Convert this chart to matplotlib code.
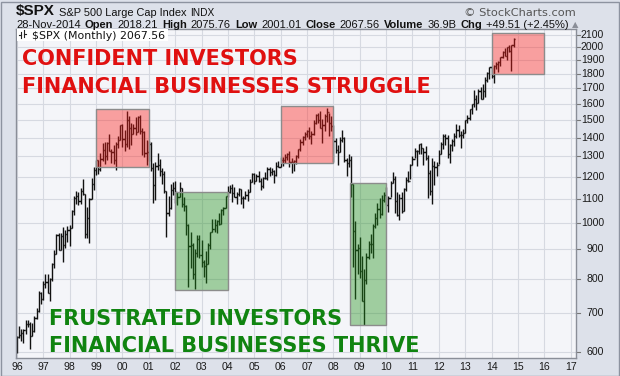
#!/usr/bin/env python3
"""S&P 500 monthly OHLC bars, 1996-2014, log scale, with shaded zones."""
import numpy as np
import matplotlib
matplotlib.use("Agg")
import matplotlib.pyplot as plt
from matplotlib.patches import Rectangle
import matplotlib.transforms as mtrans

# ---- monthly OHLC, Jan 1996 .. Nov 2014 ----
first_year = 1996

opens = [
    615.93, 636.02, 640.43, 645.50, 654.17, 669.12, 670.63, 639.95, 651.99, 687.31, 705.27, 757.02,
    740.74, 786.16, 790.82, 757.12, 801.34, 848.28, 885.14, 954.29, 899.47, 947.28, 914.62, 955.40,
    970.43, 980.28, 1049.34, 1101.75, 1111.75, 1090.82, 1133.84, 1120.67, 957.28, 1017.01, 1098.67, 1163.63,
    1229.23, 1279.64, 1238.33, 1286.37, 1335.18, 1301.84, 1372.71, 1328.72, 1320.41, 1282.71, 1362.93, 1388.91,
    1469.25, 1394.46, 1366.42, 1498.58, 1452.43, 1420.60, 1454.60, 1430.83, 1517.68, 1436.51, 1429.40, 1314.95,
    1320.28, 1366.01, 1239.94, 1160.33, 1249.46, 1255.82, 1224.42, 1211.23, 1133.58, 1040.94, 1059.78, 1139.45,
    1148.08, 1130.20, 1106.73, 1147.39, 1076.92, 1067.14, 989.82, 911.62, 916.07, 815.28, 885.76, 936.31,
    879.82, 855.70, 841.15, 848.18, 916.92, 963.59, 974.50, 990.31, 1008.01, 995.97, 1050.71, 1058.20,
    1111.92, 1131.13, 1144.94, 1126.21, 1107.30, 1120.68, 1140.84, 1101.72, 1104.24, 1114.58, 1130.20, 1173.82,
    1211.92, 1181.27, 1203.60, 1180.59, 1156.85, 1191.50, 1191.33, 1234.18, 1220.33, 1228.81, 1207.01, 1249.48,
    1248.29, 1280.08, 1280.66, 1294.83, 1310.61, 1270.09, 1270.20, 1276.66, 1303.82, 1335.85, 1377.94, 1400.63,
    1418.30, 1438.24, 1406.82, 1420.86, 1482.37, 1530.62, 1503.35, 1455.27, 1473.99, 1526.75, 1549.38, 1481.14,
    1468.36, 1378.55, 1330.63, 1322.70, 1385.59, 1400.38, 1280.00, 1267.38, 1282.83, 1166.36, 968.75, 896.24,
    903.25, 825.88, 735.09, 797.87, 872.81, 919.14, 919.32, 987.48, 1020.62, 1057.08, 1036.19, 1095.63,
    1115.10, 1073.87, 1104.49, 1169.43, 1186.69, 1089.41, 1030.71, 1101.60, 1049.33, 1141.20, 1183.26, 1180.55,
    1257.64, 1286.12, 1327.22, 1325.83, 1363.61, 1345.20, 1320.64, 1292.28, 1218.89, 1131.42, 1253.30, 1246.96,
    1257.60, 1312.41, 1365.68, 1408.47, 1397.91, 1310.33, 1362.16, 1379.32, 1406.58, 1440.67, 1412.16, 1416.18,
    1426.19, 1498.11, 1514.68, 1569.19, 1597.57, 1630.74, 1606.28, 1685.73, 1632.97, 1681.55, 1756.54, 1805.81,
    1848.36, 1782.59, 1859.45, 1872.34, 1883.95, 1923.57, 1960.23, 1930.67, 2003.37, 1972.29, 2018.21,
]

highs = [
    638.46, 664.23, 656.97, 657.63, 681.10, 680.32, 675.88, 671.84, 690.88, 714.10, 762.33, 761.75,
    794.67, 817.68, 817.00, 804.13, 851.87, 898.70, 955.40, 961.63, 960.59, 983.12, 973.38, 986.25,
    992.65, 1050.02, 1113.07, 1132.98, 1130.52, 1145.15, 1190.58, 1121.82, 1066.11, 1103.78, 1192.97, 1244.93,
    1280.37, 1283.75, 1316.55, 1371.56, 1375.98, 1376.81, 1420.33, 1336.61, 1357.74, 1373.17, 1408.51, 1473.10,
    1478.00, 1444.55, 1552.87, 1527.19, 1481.51, 1474.64, 1517.32, 1525.21, 1530.09, 1454.82, 1438.46, 1389.06,
    1383.37, 1376.38, 1267.42, 1269.30, 1315.93, 1286.62, 1239.78, 1226.27, 1135.52, 1110.61, 1163.38, 1173.62,
    1176.97, 1130.20, 1173.94, 1147.84, 1106.59, 1070.74, 994.46, 965.00, 924.02, 900.96, 954.28, 954.18,
    935.05, 864.64, 895.90, 924.24, 965.38, 1015.33, 1015.41, 1011.01, 1040.29, 1053.79, 1063.65, 1112.56,
    1155.38, 1158.98, 1163.23, 1150.57, 1127.74, 1146.34, 1140.84, 1109.68, 1131.54, 1142.05, 1188.46, 1217.33,
    1217.80, 1212.44, 1229.11, 1191.88, 1199.56, 1219.59, 1245.15, 1245.86, 1243.13, 1233.34, 1270.64, 1275.80,
    1294.90, 1297.57, 1310.88, 1318.16, 1326.70, 1290.68, 1280.42, 1306.74, 1340.28, 1389.45, 1407.89, 1431.81,
    1441.61, 1461.57, 1438.89, 1498.02, 1535.56, 1540.56, 1555.90, 1503.89, 1538.74, 1576.09, 1545.79, 1523.57,
    1471.77, 1396.02, 1359.68, 1404.57, 1440.24, 1404.05, 1292.17, 1313.15, 1303.04, 1167.03, 1007.51, 918.85,
    943.85, 875.01, 832.98, 888.70, 930.17, 956.23, 996.68, 1039.47, 1080.15, 1101.36, 1113.69, 1130.38,
    1150.45, 1112.42, 1180.16, 1219.80, 1202.45, 1131.23, 1120.95, 1129.24, 1148.90, 1196.14, 1227.08, 1262.60,
    1302.67, 1344.07, 1332.28, 1366.60, 1370.58, 1345.20, 1356.48, 1307.38, 1229.29, 1292.66, 1277.55, 1269.37,
    1333.47, 1378.04, 1419.15, 1422.38, 1415.32, 1363.46, 1391.74, 1426.68, 1474.51, 1470.96, 1434.27, 1448.00,
    1503.26, 1530.94, 1570.28, 1597.57, 1687.18, 1654.19, 1698.78, 1709.67, 1729.86, 1775.22, 1813.55, 1849.44,
    1850.84, 1867.92, 1883.97, 1897.28, 1924.03, 1968.17, 1991.39, 2005.04, 2019.26, 2018.19, 2075.76,
]

lows = [
    597.29, 633.71, 627.63, 621.15, 645.00, 662.48, 605.88, 639.70, 649.92, 684.76, 703.77, 723.96,
    737.01, 773.43, 756.13, 733.54, 793.21, 836.36, 883.68, 896.42, 899.47, 855.27, 903.68, 924.92,
    912.83, 979.59, 1032.39, 1076.70, 1074.39, 1074.67, 1114.30, 939.98, 939.79, 923.32, 1098.67, 1136.89,
    1205.46, 1211.94, 1226.24, 1278.24, 1263.11, 1281.41, 1328.72, 1268.37, 1261.69, 1233.70, 1341.77, 1387.38,
    1350.14, 1325.07, 1346.62, 1339.40, 1361.09, 1420.60, 1413.89, 1430.83, 1419.44, 1305.79, 1294.90, 1254.07,
    1274.62, 1228.33, 1081.19, 1091.99, 1232.00, 1203.03, 1165.54, 1124.87, 944.75, 1026.76, 1054.31, 1114.51,
    1081.66, 1074.36, 1106.73, 1063.46, 1048.96, 952.92, 775.68, 837.70, 800.20, 768.63, 872.03, 870.36,
    840.34, 806.29, 788.90, 847.85, 902.83, 963.59, 962.10, 960.84, 990.36, 995.97, 1031.20, 1058.20,
    1105.08, 1124.44, 1087.16, 1106.62, 1076.32, 1113.32, 1078.78, 1060.72, 1099.18, 1090.19, 1127.60, 1173.76,
    1163.75, 1180.95, 1176.84, 1136.15, 1146.18, 1188.30, 1183.55, 1201.07, 1205.35, 1168.20, 1201.07, 1246.59,
    1245.74, 1253.61, 1268.42, 1280.74, 1245.34, 1219.29, 1224.54, 1261.30, 1290.93, 1327.10, 1360.98, 1385.93,
    1403.97, 1389.42, 1363.98, 1416.37, 1476.70, 1484.18, 1454.25, 1370.60, 1439.29, 1489.56, 1406.10, 1435.65,
    1270.05, 1316.75, 1256.98, 1324.35, 1373.72, 1272.00, 1200.44, 1248.64, 1106.42, 839.80, 741.02, 815.69,
    804.30, 734.52, 666.79, 783.32, 866.10, 888.86, 869.32, 978.51, 991.97, 1020.18, 1029.38, 1085.89,
    1071.59, 1044.50, 1105.36, 1170.69, 1040.78, 1028.33, 1010.91, 1039.70, 1048.92, 1131.87, 1173.00, 1186.60,
    1257.62, 1289.14, 1249.05, 1312.70, 1311.80, 1258.07, 1282.86, 1101.54, 1114.22, 1074.77, 1158.66, 1202.37,
    1258.86, 1310.73, 1340.03, 1357.38, 1291.98, 1266.74, 1325.41, 1354.65, 1396.56, 1403.28, 1343.35, 1398.11,
    1426.19, 1485.01, 1501.48, 1536.03, 1581.28, 1560.33, 1604.57, 1627.47, 1633.41, 1646.47, 1746.20, 1767.99,
    1770.45, 1737.92, 1834.44, 1814.36, 1859.79, 1915.98, 1930.67, 1904.78, 1964.04, 1820.66, 2001.01,
]

closes = [
    636.02, 640.43, 645.50, 654.17, 669.12, 670.63, 639.95, 651.99, 687.31, 705.27, 757.02, 740.74,
    786.16, 790.82, 757.12, 801.34, 848.28, 885.14, 954.29, 899.47, 947.28, 914.62, 955.40, 970.43,
    980.28, 1049.34, 1101.75, 1111.75, 1090.82, 1133.84, 1120.67, 957.28, 1017.01, 1098.67, 1163.63, 1229.23,
    1279.64, 1238.33, 1286.37, 1335.18, 1301.84, 1372.71, 1328.72, 1320.41, 1282.71, 1362.93, 1388.91, 1469.25,
    1394.46, 1366.42, 1498.58, 1452.43, 1420.60, 1454.60, 1430.83, 1517.68, 1436.51, 1429.40, 1314.95, 1320.28,
    1366.01, 1239.94, 1160.33, 1249.46, 1255.82, 1224.42, 1211.23, 1133.58, 1040.94, 1059.78, 1139.45, 1148.08,
    1130.20, 1106.73, 1147.39, 1076.92, 1067.14, 989.82, 911.62, 916.07, 815.28, 885.76, 936.31, 879.82,
    855.70, 841.15, 848.18, 916.92, 963.59, 974.50, 990.31, 1008.01, 995.97, 1050.71, 1058.20, 1111.92,
    1131.13, 1144.94, 1126.21, 1107.30, 1120.68, 1140.84, 1101.72, 1104.24, 1114.58, 1130.20, 1173.82, 1211.92,
    1181.27, 1203.60, 1180.59, 1156.85, 1191.50, 1191.33, 1234.18, 1220.33, 1228.81, 1207.01, 1249.48, 1248.29,
    1280.08, 1280.66, 1294.83, 1310.61, 1270.09, 1270.20, 1276.66, 1303.82, 1335.85, 1377.94, 1400.63, 1418.30,
    1438.24, 1406.82, 1420.86, 1482.37, 1530.62, 1503.35, 1455.27, 1473.99, 1526.75, 1549.38, 1481.14, 1468.36,
    1378.55, 1330.63, 1322.70, 1385.59, 1400.38, 1280.00, 1267.38, 1282.83, 1166.36, 968.75, 896.24, 903.25,
    825.88, 735.09, 797.87, 872.81, 919.14, 919.32, 987.48, 1020.62, 1057.08, 1036.19, 1095.63, 1115.10,
    1073.87, 1104.49, 1169.43, 1186.69, 1089.41, 1030.71, 1101.60, 1049.33, 1141.20, 1183.26, 1180.55, 1257.64,
    1286.12, 1327.22, 1325.83, 1363.61, 1345.20, 1320.64, 1292.28, 1218.89, 1131.42, 1253.30, 1246.96, 1257.60,
    1312.41, 1365.68, 1408.47, 1397.91, 1310.33, 1362.16, 1379.32, 1406.58, 1440.67, 1412.16, 1416.18, 1426.19,
    1498.11, 1514.68, 1569.19, 1597.57, 1630.74, 1606.28, 1685.73, 1632.97, 1681.55, 1756.54, 1805.81, 1848.36,
    1782.59, 1859.45, 1872.34, 1883.95, 1923.57, 1960.23, 1930.67, 2003.37, 1972.29, 2018.05, 2067.56,
]

# shaded zones: (start year, end year, low, high)
zone_x0 = [1999.0, 2002.0, 2006.0, 2008.64, 2014.0]
zone_x1 = [2001.0, 2004.0, 2008.0, 2010.0, 2016.0]
zone_lo = [1245, 766, 1265, 667, 1798]
zone_hi = [1565, 1130, 1584, 1168, 2119]
zone_kind = ["up", "down", "up", "down", "up"]

y_ticks = [600, 700, 800, 900, 1000, 1100, 1200, 1300, 1400, 1500,
           1600, 1700, 1800, 1900, 2000, 2100]
x_years = list(range(1996, 2018))

title_parts = [("$SPX", "bold", 11.0), ("S&P 500 Large Cap Index", "normal", 7.9),
               ("INDX", "normal", 7.3)]
header_parts = [("28-Nov-2014", "normal"), ("Open", "bold"), ("2018.21", "normal"),
                ("High", "bold"), ("2075.76", "normal"), ("Low", "bold"),
                ("2001.01", "normal"), ("Close", "bold"), ("2067.56", "normal"),
                ("Volume", "bold"), ("36.9B", "normal"), ("Chg", "bold"),
                ("+49.51 (+2.45%)", "normal")]

RED = "#e01010"
GREEN = "#108410"
ZONE_FILL = {"up": ((1.0, 0.125, 0.10), 0.40), "down": ((0.13, 0.57, 0.10), 0.40)}

W, H = 620, 376
fig = plt.figure(figsize=(W / 100, H / 100), dpi=100)
fig.patch.set_facecolor("#dde1ea")
fig.patches.append(Rectangle((0.5 / W, 0.5 / H), (W - 2) / W, (H - 2) / H,
                             transform=fig.transFigure, fill=False,
                             edgecolor="#8d93a0", linewidth=1.0))

L, R, T, B = 15.5, 576, 29.3, 357.5
ax = fig.add_axes([L / W, 1 - B / H, (R - L) / W, (B - T) / H])
ax.set_facecolor("#f4f5f9")
ax.set_yscale("log")
ax.set_xlim(1995.947, 2017.2)
ax.set_ylim(587, 2147.7)
ax.set_xticks([])
ax.set_yticks([])
ax.minorticks_off()

for s in ax.spines.values():
    s.set_color("#8a8e98")
    s.set_linewidth(1.0)

# grid
for yv in y_ticks:
    ax.axhline(yv, color="#d6d9e1", lw=0.8, zorder=0)
for xv in x_years:
    ax.axvline(xv, color="#d6d9e1", lw=0.8, zorder=0)

# OHLC bars
x = first_year + np.arange(len(closes)) / 12.0
tick = 0.045
ax.vlines(x, lows, highs, color="#111111", lw=1.0, zorder=2)
ax.hlines(opens, x - tick, x, color="#111111", lw=1.0, zorder=2)
ax.hlines(closes, x, x + tick, color="#111111", lw=1.0, zorder=2)

# shaded zones on top of the bars
for x0, x1, lo, hi, k in zip(zone_x0, zone_x1, zone_lo, zone_hi, zone_kind):
    col, a = ZONE_FILL[k]
    ax.add_patch(Rectangle((x0, lo), x1 - x0, hi - lo, facecolor=col, alpha=a,
                           edgecolor="none", zorder=3))
    ax.add_patch(Rectangle((x0, lo), x1 - x0, hi - lo, fill=False,
                           edgecolor="#8c8c8c", lw=1.0, zorder=3))

# price axis on the right, year axis below
ytr = mtrans.blended_transform_factory(fig.transFigure, ax.transData)
for yv in y_ticks:
    ax.plot([R / W, (R + 3.5) / W], [yv, yv], transform=ytr, color="#777777",
            lw=0.8, clip_on=False)
    fig.text(604 / W, yv, str(yv), transform=ytr, ha="right", va="center",
             fontsize=7.6, family="Liberation Sans", color="#1a1a1a")
xtr = mtrans.blended_transform_factory(ax.transData, fig.transFigure)
for yr in x_years:
    fig.text(yr, 1 - 366.5 / H, f"{yr % 100:02d}", transform=xtr, ha="center",
             va="center", fontsize=7.6, family="Liberation Sans", color="#1a1a1a")

# legend box inside the chart
box_h = 12.0 / (B - T)
ax.add_patch(Rectangle((0.002, 1 - box_h), 151.0 / (R - L), box_h,
                       transform=ax.transAxes, facecolor="white", edgecolor="none", zorder=4))
ix = (20.5 - L) / (R - L)
gap = 3.5 / (R - L)
for dx, y0, y1 in [(0, 0.25, 0.80), (gap, 0.40, 0.92)]:
    ax.plot([ix + dx, ix + dx], [1 - (1 - y0) * box_h, 1 - (1 - y1) * box_h],
            transform=ax.transAxes, color="#222222", lw=0.8, zorder=5, clip_on=False)
for dx, yy, sgn in [(0, 0.55, -1), (gap, 0.62, 1)]:
    ax.plot([ix + dx, ix + dx + sgn * 1.8 / (R - L)], [1 - (1 - yy) * box_h] * 2,
            transform=ax.transAxes, color="#222222", lw=0.8, zorder=5, clip_on=False)
fig.text(31.5 / W, 1 - 39.0 / H, "$SPX (Monthly) 2067.56", fontsize=7.9,
         family="DejaVu Sans", color="#111111", va="baseline", zorder=6)

# big annotations
big = dict(fontsize=15, fontweight="bold", family="DejaVu Sans", va="baseline")
fig.text(22 / W, 1 - 65 / H, "CONFIDENT INVESTORS", color=RED, **big)
fig.text(22 / W, 1 - 93 / H, "FINANCIAL BUSINESSES STRUGGLE", color=RED, **big)
fig.text(49 / W, 1 - 325 / H, "FRUSTRATED INVESTORS", color=GREEN, **big)
fig.text(49 / W, 1 - 352 / H, "FINANCIAL BUSINESSES THRIVE", color=GREEN, **big)

# header lines
rend = fig.canvas.get_renderer()
hx = 16.0
for s, w, fs in title_parts:
    t = fig.text(hx / W, 1 - 15.5 / H, s, fontsize=fs, fontweight=w,
                 family="Liberation Sans", color="#111111", va="baseline")
    hx += t.get_window_extent(rend).width + 4.0
fig.text(576 / W, 1 - 15.5 / H, "\u00a9 StockCharts.com", fontsize=8.2, ha="right",
         family="DejaVu Sans", color="#555555", va="baseline")

hx = 16.0
for s, w in header_parts:
    t = fig.text(hx / W, 1 - 27.5 / H, s, fontsize=8.0, fontweight=w,
                 family="Liberation Sans", color="#111111", va="baseline")
    hx += t.get_window_extent(rend).width + 4.1
fig.text((hx - 1) / W, 1 - 27.0 / H, "\u25b2", fontsize=6, color="#8a8e98",
         family="DejaVu Sans", va="baseline")

fig.savefig("out.png", dpi=100, facecolor=fig.get_facecolor())
